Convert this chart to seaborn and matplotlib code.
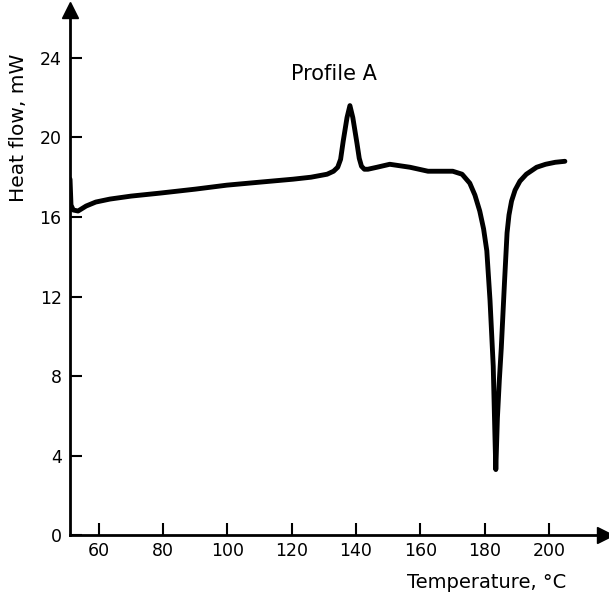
import matplotlib
matplotlib.use("Agg")
import matplotlib.pyplot as plt
import seaborn as sns
import pandas as pd

# DSC trace, profile A
temperature = [51.0, 51.3, 52.0, 53.5, 56.0, 59.0, 63.4, 70.0, 79.0, 90.0,
               99.8, 110.0, 120.4, 126.0, 131.0, 133.0, 134.3, 135.2, 136.0, 137.2,
               138.1, 139.0, 140.3, 141.0, 141.7, 142.6, 143.7, 146.5, 150.5, 156.8,
               162.4, 167.0, 170.1, 173.0, 175.4, 177.0, 178.5, 179.7, 180.7, 181.7,
               182.7, 183.2, 183.5, 184.0, 184.6, 185.2, 186.2, 187.0, 187.6, 188.4,
               189.5, 191.0, 193.0, 196.2, 199.0, 202.0, 205.0]
heat_flow = [17.9, 16.6, 16.35, 16.3, 16.55, 16.75, 16.9, 17.05, 17.2, 17.4,
             17.6, 17.75, 17.9, 18.0, 18.15, 18.3, 18.5, 18.9, 19.8, 21.0,
             21.6, 21.0, 19.7, 18.95, 18.55, 18.4, 18.4, 18.5, 18.65, 18.5,
             18.3, 18.3, 18.3, 18.15, 17.7, 17.1, 16.3, 15.4, 14.3, 11.8,
             8.5, 5.2, 3.3, 5.9, 7.8, 9.4, 12.7, 15.2, 16.1, 16.8,
             17.35, 17.8, 18.15, 18.5, 18.65, 18.75, 18.8]

x_ticks = [60, 80, 100, 120, 140, 160, 180, 200]
y_ticks = [0, 4, 8, 12, 16, 20, 24]

df = pd.DataFrame({"T": temperature, "Q": heat_flow})

sns.set_style("ticks")
plt.rcParams["font.family"] = ["DejaVu Sans"]
plt.rcParams["text.color"] = "black"
plt.rcParams["axes.labelcolor"] = "black"

fig = plt.figure(figsize=(6.09, 5.96), dpi=100)
ax = fig.add_axes([0.115, 0.102, 0.878, 0.881])

sns.lineplot(data=df, x="T", y="Q", sort=False, estimator=None, color="black",
             lw=3.5, ax=ax, solid_capstyle="round", solid_joinstyle="round")

ax.set_xlim(51, 217.4)
ax.set_ylim(0, 26.4)
ax.set_xticks(x_ticks)
ax.set_yticks(y_ticks)
ax.tick_params(direction="in", length=8.5, width=1.5, labelsize=12.5, colors="black")
ax.tick_params(axis="x", pad=5)
ax.tick_params(axis="y", pad=6)

for side in ["top", "right"]:
    ax.spines[side].set_visible(False)
for side in ["left", "bottom"]:
    ax.spines[side].set_linewidth(2)
    ax.spines[side].set_color("black")

# arrow heads on the axes
ax.plot(1, 0, ">", transform=ax.transAxes, color="black", ms=12, clip_on=False)
ax.plot(0, 1, "^", transform=ax.transAxes, color="black", ms=12, clip_on=False)

ax.set_xlabel("Temperature, °C", fontsize=14, va="center")
ax.set_ylabel("Heat flow, mW", fontsize=14.5)
ax.xaxis.set_label_coords(0.78, -0.091)
ax.yaxis.set_label_coords(-0.078, 0.775)

ax.text(133, 23.2, "Profile A", fontsize=15, ha="center", va="center")

fig.savefig("out.png", dpi=100)
